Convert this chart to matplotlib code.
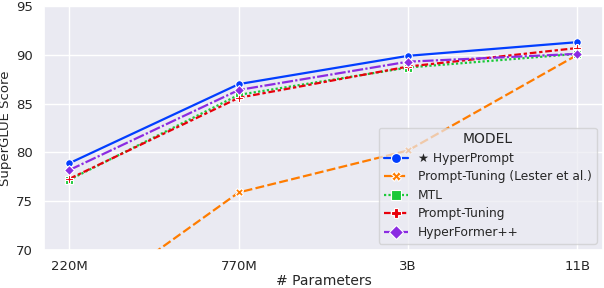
import numpy as np
import pandas as pd
import matplotlib
matplotlib.use("Agg")
import matplotlib.pyplot as plt
import seaborn as sns

# model sizes on the x axis
sizes = ["220M", "770M", "3B", "11B"]

# SuperGLUE scores
hyperprompt = [78.9, 87.0, 89.9, 91.3]
lester = [63.5, 75.9, 80.2, 90.0]
mtl = [77.2, 85.9, 88.7, 90.1]
prompt_tuning = [77.3, 85.6, 88.8, 90.7]
hyperformer = [78.2, 86.4, 89.3, 90.1]

models = ["\u2605 HyperPrompt", "Prompt-Tuning (Lester et al.)", "MTL",
          "Prompt-Tuning", "HyperFormer++"]
scores = [hyperprompt, lester, mtl, prompt_tuning, hyperformer]

rows = []
for name, vals in zip(models, scores):
    for s, v in zip(sizes, vals):
        rows.append({"# Parameters": s, "SuperGLUE Score": v, "MODEL": name})
df = pd.DataFrame(rows)

sns.set_theme(style="darkgrid", palette="bright")
plt.rcParams["font.family"] = ["DejaVu Sans"]

fig, ax = plt.subplots(figsize=(6.04, 2.88), dpi=100)
sns.lineplot(data=df, x="# Parameters", y="SuperGLUE Score", hue="MODEL",
             style="MODEL", markers=["o", "X", "s", "P", "D"],
             dashes=True, hue_order=models, style_order=models,
             markersize=5.5, markeredgecolor="white", markeredgewidth=0.8,
             linewidth=1.6, ax=ax)

ax.set_ylim(70, 95)
ax.set_yticks([70, 75, 80, 85, 90, 95])
ax.set_xlim(-0.15, 3.15)
ax.tick_params(axis="x", labelsize=9.5, pad=1)
ax.tick_params(axis="y", labelsize=9.5, pad=2)
ax.set_xlabel("# Parameters", fontsize=10, labelpad=1)
ax.set_ylabel("SuperGLUE Score", fontsize=9.5, labelpad=3)

leg = ax.legend(title="MODEL", loc="lower right", fontsize=8.8,
                title_fontsize=10, framealpha=0.7, borderaxespad=0.5,
                labelspacing=0.45, handlelength=2.0, markerscale=1.3)

fig.subplots_adjust(left=0.073, right=0.998, top=0.979, bottom=0.132)
fig.savefig("out.png", dpi=100)
